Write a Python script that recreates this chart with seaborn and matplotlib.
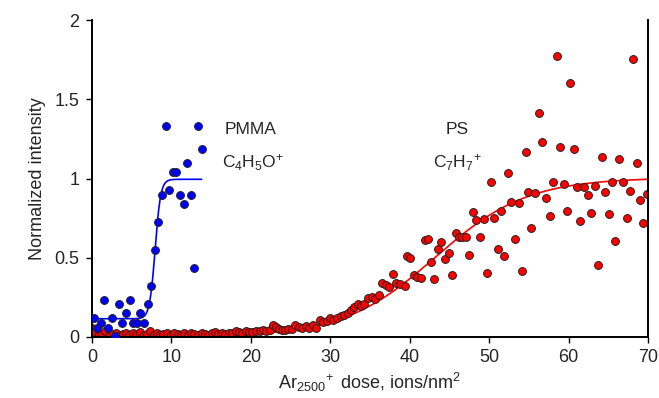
import matplotlib
matplotlib.use('Agg')
import matplotlib.pyplot as plt
import pandas as pd
import seaborn as sns
import numpy as np

# PMMA, C4H5O+ (blue)
pmma_x = [0.25, 0.67, 1.13, 1.55, 2.05, 2.52, 2.9, 3.4, 3.82, 4.28, 4.75, 5.2, 5.67, 6.08,
          6.55, 7.01, 7.43, 7.93, 8.35, 8.82, 9.28, 9.7, 10.16, 10.62, 11.04, 11.55, 11.96,
          12.47, 12.89, 13.35, 13.82]
pmma_y = [0.118, 0.059, 0.09, 0.233, 0.059, 0.118, 0.004, 0.206, 0.09, 0.149, 0.233, 0.09,
          0.09, 0.149, 0.09, 0.206, 0.322, 0.549, 0.724, 0.896, 1.331, 0.927, 1.043, 1.043,
          0.896, 0.839, 1.1, 0.896, 0.437, 1.331, 1.186]

# PS, C7H7+ (red)
ps_x = [0.0, 0.4, 0.9, 1.3, 1.7, 2.2, 2.6, 3.0, 3.5, 3.9, 4.3, 4.7, 5.2, 5.6, 6.0, 6.5, 6.9,
        7.3, 7.8, 8.2, 8.6, 9.0, 9.5, 9.9, 10.3, 10.8, 11.2, 11.6, 12.1, 12.5, 12.9, 13.3,
        13.8, 14.2, 14.6, 15.1, 15.5, 15.9, 16.4, 16.8, 17.2, 17.6, 18.1, 18.5, 18.9, 19.4,
        19.8, 20.2, 20.7, 21.1, 21.5, 21.9, 22.4, 22.8, 23.2, 23.6,
        23.9, 24.3, 24.7, 25.2, 25.6, 26.0, 26.5, 26.9, 27.3, 27.8, 28.2, 28.7, 29.1, 29.6,
        30.0, 30.4, 30.9, 31.3, 31.7, 32.2, 32.6, 33.0, 33.5, 33.9, 34.3, 34.8, 35.2, 35.6,
        36.1, 36.5, 37.0, 37.4, 37.9, 38.3, 38.8, 39.4,
        39.6, 40.0, 40.5, 40.9, 41.4, 41.9, 42.3, 42.7, 43.1, 43.6, 44.0, 44.4, 44.9, 45.3,
        45.8, 46.2, 46.6, 47.1, 47.5, 48.0, 48.4, 48.9, 49.3, 49.7, 50.2, 50.6, 51.1, 51.5,
        51.9, 52.4, 52.8, 53.2, 53.7, 54.1,
        54.6, 54.9, 55.3, 55.8, 56.3, 56.7, 57.1, 57.6, 58.1, 58.5, 58.9, 59.4, 59.8, 60.2,
        60.7, 61.1, 61.5, 62.0, 62.4, 62.8, 63.3, 63.7, 64.2, 64.6, 65.1, 65.5, 65.9, 66.4,
        66.8, 67.3, 67.7, 68.1, 68.6, 69.0, 69.4, 69.9]
ps_y = [0.055, 0.03, 0.012, 0.02, 0.035, 0.008, 0.018, 0.025, 0.01, 0.02, 0.028, 0.012,
        0.022, 0.015, 0.03, 0.01, 0.02, 0.038, 0.015, 0.025, 0.012, 0.02, 0.028, 0.015,
        0.025, 0.018, 0.012, 0.022, 0.015, 0.028, 0.02, 0.012, 0.025, 0.018, 0.015, 0.022,
        0.03, 0.018, 0.025, 0.02, 0.028, 0.022, 0.035, 0.03, 0.025, 0.038, 0.032, 0.03,
        0.04, 0.035, 0.042, 0.038, 0.045, 0.074, 0.06, 0.05,
        0.047, 0.042, 0.053, 0.049, 0.076, 0.063, 0.059, 0.068, 0.057, 0.078, 0.057, 0.110,
        0.095, 0.099, 0.120, 0.110, 0.120, 0.131, 0.141, 0.152, 0.169, 0.190, 0.211, 0.198,
        0.211, 0.249, 0.253, 0.240, 0.268, 0.343, 0.326, 0.316, 0.396, 0.343, 0.337, 0.322,
        0.512, 0.499, 0.39, 0.377, 0.375, 0.613, 0.621, 0.470, 0.364, 0.558, 0.600, 0.495,
        0.527, 0.394, 0.659, 0.632, 0.632, 0.628, 0.516, 0.788, 0.739, 0.632, 0.745, 0.402,
        0.975, 0.752, 0.558, 0.794, 0.512, 1.032, 0.849, 0.617, 0.846, 0.415,
        1.168, 0.916, 0.688, 0.907, 1.415, 1.228, 0.876, 0.764, 0.981, 1.775, 1.196, 0.968,
        0.794, 1.600, 1.185, 0.947, 0.733, 0.947, 0.895, 0.783, 0.952, 0.457, 1.137, 0.914,
        0.779, 0.981, 0.606, 1.122, 0.981, 0.75, 0.918, 1.752, 1.097, 0.863, 0.722, 0.901]

# sigmoid fit parameters (base, top, centre, width, x range)
pmma_fit = (0.115, 0.995, 7.95, 0.35, 0.0, 13.8)
ps_fit = (0.0, 1.005, 43.2, 5.8, 0.0, 70.0)


def sigmoid_curve(base, top, x0, w, xmin, xmax):
    xs = np.linspace(xmin, xmax, 400)
    ys = base + (top - base) / (1 + np.exp(-(xs - x0) / w))
    return pd.DataFrame({'x': xs, 'y': ys})


sns.set_theme(style='white')
plt.rcParams['font.family'] = ['Liberation Sans', 'DejaVu Sans']
plt.rcParams['mathtext.default'] = 'regular'

df_pmma = pd.DataFrame({'x': pmma_x, 'y': pmma_y})
df_ps = pd.DataFrame({'x': ps_x, 'y': ps_y})

fig = plt.figure(figsize=(6.59, 3.98), dpi=100)
ax = fig.add_axes([0.1396, 0.1533, 0.8437, 0.7964])

sns.lineplot(data=sigmoid_curve(*ps_fit), x='x', y='y', color='#ff0000', lw=1.2, ax=ax, zorder=1)
sns.lineplot(data=sigmoid_curve(*pmma_fit), x='x', y='y', color='#0000ff', lw=1.2, ax=ax, zorder=1)
sns.scatterplot(data=df_ps, x='x', y='y', color='#ff0000', edgecolor='#222222', s=32,
                linewidth=0.7, ax=ax, zorder=2)
sns.scatterplot(data=df_pmma, x='x', y='y', color='#0000ff', edgecolor='#222222', s=32,
                linewidth=0.7, ax=ax, zorder=3)

ax.text(16.7, 1.31, 'PMMA', fontsize=12.5, ha='left', va='center')
ax.text(16.4, 1.10, r'$C_4H_5O^{\!+}$', fontsize=12.5, ha='left', va='center')
ax.text(46.0, 1.31, 'PS', fontsize=12.5, ha='center', va='center')
ax.text(46.0, 1.10, r'$C_7H_7{}^{\!+}$', fontsize=12.5, ha='center', va='center')

ax.set_xlim(0, 70)
ax.set_ylim(0, 2)
ax.set_xticks(range(0, 71, 10))
ax.set_yticks([0, 0.5, 1, 1.5, 2])
ax.set_yticklabels(['0', '0.5', '1', '1.5', '2'])
ax.set_xlabel(r'$Ar_{2500}{}^{\!+}$ dose, ions/nm$^2$', fontsize=13, labelpad=3)
ax.set_ylabel('Normalized intensity', fontsize=13, labelpad=6)
ax.tick_params(axis='both', direction='out', length=4, width=1, labelsize=13,
               bottom=True, left=True, color='black', pad=5)
ax.spines['top'].set_visible(False)
for s in ['left', 'bottom', 'right']:
    ax.spines[s].set_color('black')
    ax.spines[s].set_linewidth(1.4)
ax.grid(False)

fig.savefig('out.png', dpi=100)
